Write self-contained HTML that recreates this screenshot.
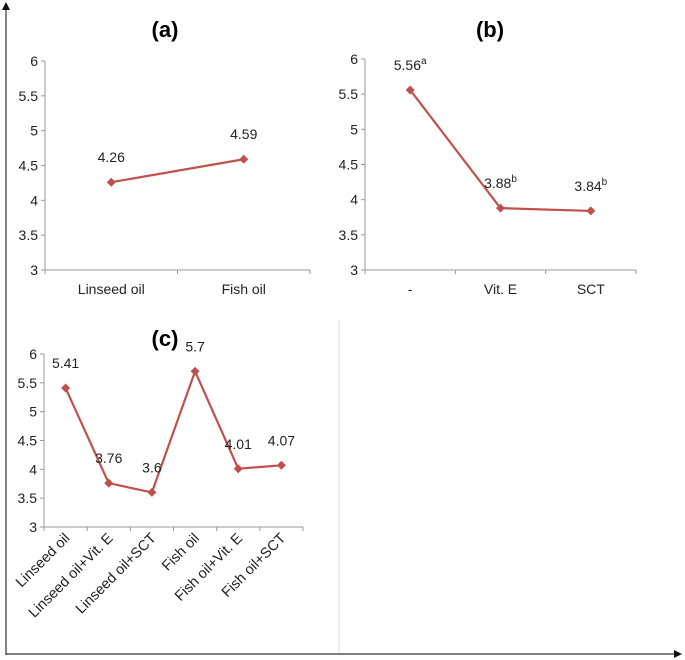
<!DOCTYPE html>
<html><head><meta charset="utf-8"><style>
html,body{margin:0;padding:0;background:#fff;}
svg{display:block;font-family:"Liberation Sans",sans-serif;}
</style></head><body>
<svg id="chart" width="685" height="660" viewBox="0 0 685 660">
<g>
<line x1="6" y1="655" x2="6" y2="8" stroke="#333" stroke-width="1.2"/>
<polygon points="2,10 10,10 6,2" fill="#111"/>
<line x1="6" y1="654" x2="676" y2="654" stroke="#333" stroke-width="1.2"/>
<polygon points="674,650 674,658 682,654" fill="#111"/>
<line x1="339" y1="320" x2="339" y2="653" stroke="#ddd" stroke-width="1"/>
</g>
</svg>
<script>
const aCategories=["Linseed oil","Fish oil"];
const aValues=[4.26,4.59];
const aLabels=["4.26","4.59"];
const bCategories=["-","Vit. E","SCT"];
const bValues=[5.56,3.88,3.84];
const bLabels=["5.56","3.88","3.84"];
const bSup=["a","b","b"];
const cCategories=["Linseed oil","Linseed oil+Vit. E","Linseed oil+SCT","Fish oil","Fish oil+Vit. E","Fish oil+SCT"];
const cValues=[5.41,3.76,3.6,5.7,4.01,4.07];
const cLabels=["5.41","3.76","3.6","5.7","4.01","4.07"];
const yTicks=[3,3.5,4,4.5,5,5.5,6];

const NS="http://www.w3.org/2000/svg";
const svg=document.getElementById('chart');
function mk(tag,attrs,parent,text){const e=document.createElementNS(NS,tag);for(const k in attrs)e.setAttribute(k,attrs[k]);if(text!==undefined)e.textContent=text;parent.appendChild(e);return e;}

function panel(id,title,titleX,titleY,x0,x1,yTop,yBot,cats,vals,labels,sup,rotate){
  const g=mk('g',{},svg);
  
  
  const ys=v=>yBot-(v-3)/3*(yBot-yTop);
  const bw=(x1-x0)/cats.length;
  const xs=i=>x0+bw*(i+0.5);
  const t=mk('text',{x:titleX,y:titleY,'text-anchor':'middle','font-size':'22','font-weight':'bold',fill:'#000'},g,title);
  
  
  const ya=mk('line',{x1:x0,y1:yTop,x2:x0,y2:yBot,stroke:'#999','stroke-width':1},g);
  
  
  yTicks.forEach(v=>{
    mk('line',{x1:x0-4,y1:ys(v),x2:x0,y2:ys(v),stroke:'#999'},g);
    const tl=mk('text',{x:x0-7,y:ys(v)+5,'text-anchor':'end','font-size':'14',fill:'#222'},g,String(v));
    
    
  });
  const xa=mk('line',{x1:x0,y1:yBot,x2:x1,y2:yBot,stroke:'#999','stroke-width':1},g);
  
  
  for(let i=0;i<=cats.length;i++) mk('line',{x1:x0+bw*i,y1:yBot,x2:x0+bw*i,y2:yBot+4,stroke:'#999'},g);
  cats.forEach((c,i)=>{
    let tl;
    if(rotate){
      const cx=xs(i)+5, cy=yBot+12;
      tl=mk('text',{x:cx,y:cy,'text-anchor':'end','font-size':'14.5',fill:'#222',transform:`rotate(-45 ${cx} ${cy})`},g,c);
    } else {
      tl=mk('text',{x:xs(i),y:yBot+24,'text-anchor':'middle','font-size':'14',fill:'#222'},g,c);
    }
    
    
  });
  const pts=vals.map((v,i)=>xs(i)+','+ys(v)).join(' ');
  const line=mk('polyline',{points:pts,fill:'none',stroke:'#c0504d','stroke-width':2.2},g);
  
  
  vals.forEach((v,i)=>{
    const x=xs(i),y=ys(v);
    const m=mk('polygon',{points:`${x},${y-4.5} ${x+4.5},${y} ${x},${y+4.5} ${x-4.5},${y}`,fill:'#c0504d'},g);
    
    
    const lb=mk('text',{x:x,y:y-20,'text-anchor':'middle','font-size':'14',fill:'#222'},g,labels[i]);
    
    
    if(sup){mk('tspan',{'font-size':'10',dy:'-6'},lb,sup[i]);}
  });
}
panel('a','(a)',165,37,45,310,61,270,aCategories,aValues,aLabels,null,false);
panel('b','(b)',490,37,365,636,59,270,bCategories,bValues,bLabels,bSup,false);
panel('c','(c)',165,346,44,303,354,527,cCategories,cValues,cLabels,null,true);
</script>
</body></html>
